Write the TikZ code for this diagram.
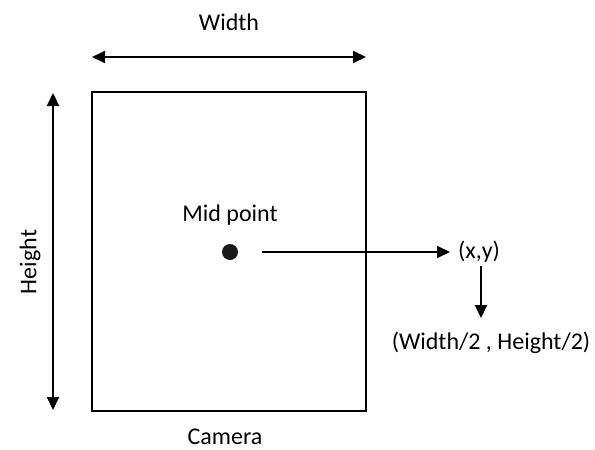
\documentclass[tikz,border=0pt]{standalone}
\usepackage{fontspec}
\setmainfont{Carlito}
\usetikzlibrary{arrows.meta}
\begin{document}
\begin{tikzpicture}[x=1pt,y=-1pt,
  lbl/.style={font=\fontsize{24}{28}\selectfont, inner sep=0pt},
  arr/.style={line width=2pt, -{Triangle[length=13pt,width=12pt]}},
  darr/.style={line width=2pt, {Triangle[length=13pt,width=12pt]}-{Triangle[length=13pt,width=12pt]}}]
\useasboundingbox (0,0) rectangle (595,450);
\node (cam) [draw, line width=1.3pt, minimum width=274pt, minimum height=319pt, inner sep=0pt] at (229,251.5) {};
\coordinate (wl) at (92,57);
\coordinate (wr) at (366,57);
\draw[darr] (wl) -- (wr);
\node[lbl] (wt) at (229,22) {Width};
\coordinate (ht) at (53,93);
\coordinate (hb) at (53,410);
\draw[darr] (ht) -- (hb);
\node[lbl, rotate=90] (htxt) at (30,262) {Height};
\node[lbl] (camt) at (225,437) {Camera};
\node (dot) [circle, fill=black!90, minimum size=16pt, inner sep=0pt] at (230,252) {};
\node[lbl] (mid) at (230,215) {Mid point};
\node[lbl, anchor=west] (xy) at (458,252) {(x,y)};
\coordinate (as) at (262,252);
\draw[arr, shorten >=8pt] (as) -- (xy.west);
\node[lbl] (wh) at (491,343) {(Width/2 , Height/2)};
\coordinate (ds) at (481,266);
\coordinate (de) at (481,318);
\draw[arr] (ds) -- (de);
\end{tikzpicture}
\end{document}
